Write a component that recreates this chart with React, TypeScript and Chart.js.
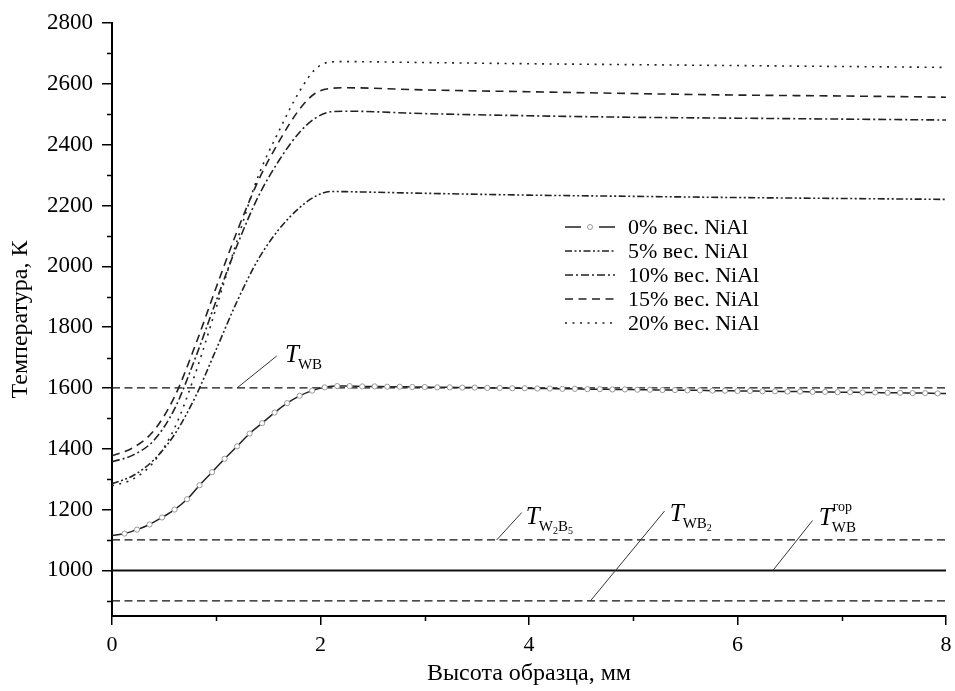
import React, { useEffect, useRef } from 'react';
import { Chart, registerables } from 'chart.js';

Chart.register(...registerables);

// ---------- axes ----------
const X_MIN = 0;
const X_MAX = 8;
const Y_MIN = 850;
const Y_MAX = 2800;
const X_TICKS = [0, 2, 4, 6, 8];
const X_MINOR = [1, 3, 5, 7];
const Y_TICKS = [1000, 1200, 1400, 1600, 1800, 2000, 2200, 2400, 2600, 2800];
const Y_MINOR = [900, 1100, 1300, 1500, 1700, 1900, 2100, 2300, 2500, 2700];

const X_TITLE = 'Высота образца, мм';
const Y_TITLE = 'Температура, К';

// ---------- series ----------
const SERIES_LABELS = ['0% вес. NiAl', '5% вес. NiAl', '10% вес. NiAl', '15% вес. NiAl', '20% вес. NiAl'];

const X0 = [0, 0.12, 0.24, 0.36, 0.48, 0.6, 0.72, 0.84, 0.96, 1.08, 1.2, 1.32, 1.44, 1.56, 1.68, 1.8, 1.92, 2.04, 2.16, 2.28,
  2.4, 2.52, 2.64, 2.76, 2.88, 3, 3.12, 3.24, 3.36, 3.48, 3.6, 3.72, 3.84, 3.96, 4.08, 4.2, 4.32, 4.44, 4.56, 4.68, 4.8, 4.92,
  5.04, 5.16, 5.28, 5.4, 5.52, 5.64, 5.76, 5.88, 6, 6.12, 6.24, 6.36, 6.48, 6.6, 6.72, 6.84, 6.96, 7.08, 7.2, 7.32, 7.44, 7.56,
  7.68, 7.8, 7.92, 8];
const Y0 = [1115, 1121, 1134, 1151, 1174, 1200, 1234, 1280, 1323, 1367, 1408, 1450, 1484, 1519, 1550, 1574, 1591, 1602, 1606, 1606,
  1605, 1605, 1604, 1604, 1603, 1603, 1602, 1602, 1601, 1601, 1600, 1600, 1599, 1599, 1598, 1598, 1597, 1597, 1596, 1596, 1595, 1595,
  1594, 1594, 1593, 1593, 1592, 1592, 1591, 1591, 1590, 1590, 1589, 1589, 1588, 1588, 1587, 1587, 1586, 1586, 1585, 1585, 1584, 1584,
  1583, 1583, 1582, 1582];

const X5 = [0, 0.2, 0.4, 0.6, 0.8, 1.0, 1.2, 1.4, 1.6, 1.8, 1.95, 2.1, 2.3, 3, 4, 5, 6, 7, 8];
const Y5 = [1285, 1311, 1363, 1447, 1571, 1727, 1885, 2021, 2121, 2193, 2230, 2246, 2245, 2240, 2234, 2230, 2226, 2223, 2220];

const X10 = [0, 0.2, 0.4, 0.6, 0.8, 1.0, 1.2, 1.4, 1.6, 1.8, 1.95, 2.1, 2.25, 3, 4, 5, 6, 7, 8];
const Y10 = [1357, 1379, 1427, 1531, 1699, 1887, 2069, 2227, 2347, 2441, 2487, 2508, 2510, 2502, 2495, 2490, 2487, 2484, 2481];

const X15 = [0, 0.2, 0.4, 0.6, 0.8, 1.0, 1.2, 1.4, 1.6, 1.8, 1.95, 2.1, 2.25, 3, 4, 5, 6, 7, 8];
const Y15 = [1377, 1403, 1459, 1571, 1741, 1931, 2115, 2279, 2409, 2517, 2569, 2585, 2587, 2580, 2574, 2568, 2563, 2560, 2556];

const X20 = [0, 0.2, 0.4, 0.6, 0.8, 1.0, 1.2, 1.4, 1.6, 1.8, 1.95, 2.1, 2.25, 3, 4, 5, 6, 7, 8];
const Y20 = [1278, 1300, 1356, 1468, 1648, 1864, 2084, 2294, 2444, 2576, 2648, 2672, 2673, 2670, 2666, 2663, 2660, 2657, 2654];

const SERIES_DASH = [[], [7, 2.5, 2, 2.5, 2, 2.5], [8, 3, 2, 3], [8, 5.5], [2, 5.5]];

// ---------- reference levels ----------
const REF_X = [0, 8];
const REF_LEVELS = [1600, 1100, 1000, 900];
const REF_DASH = [[8, 4.5], [8, 4.5], [], [8, 4.5]];
const REF_WIDTH = [1.3, 1.3, 2, 1.3];

// ---------- annotations (data units) ----------
type Ann = { sub: string; sup: string; line: number[]; at: number[] };
const ANNOTATIONS: Ann[] = [
  { sub: 'WB', sup: '', line: [1.2, 1600, 1.58, 1705], at: [1.66, 1685] },
  { sub: 'W2B5', sup: '', line: [3.69, 1100, 3.93, 1190], at: [3.97, 1154] },
  { sub: 'WB2', sup: '', line: [4.59, 900, 5.3, 1195], at: [5.35, 1161] },
  { sub: 'WB', sup: 'гор', line: [6.34, 1000, 6.72, 1164], at: [6.78, 1150] },
];

const FONT = '"Liberation Serif", "Times New Roman", serif';

const zip = (xs: number[], ys: number[]) => xs.map((x, i) => ({ x, y: ys[i] }));

const overlayPlugin = {
  id: 'overlay',
  afterDraw(chart: any) {
    const ctx: CanvasRenderingContext2D = chart.ctx;
    const xs = chart.scales.x;
    const ys = chart.scales.y;
    const area = chart.chartArea;
    ctx.save();
    // minor ticks
    ctx.strokeStyle = '#000';
    ctx.lineWidth = 1.5;
    ctx.setLineDash([]);
    ctx.beginPath();
    X_MINOR.forEach((v) => {
      const px = Math.round(xs.getPixelForValue(v)) + 0.5;
      ctx.moveTo(px, area.bottom);
      ctx.lineTo(px, area.bottom + 5);
    });
    Y_MINOR.forEach((v) => {
      const py = Math.round(ys.getPixelForValue(v)) + 0.5;
      ctx.moveTo(area.left - 5, py);
      ctx.lineTo(area.left, py);
    });
    ctx.stroke();

    // annotations
    ANNOTATIONS.forEach((a) => {
      const x1 = xs.getPixelForValue(a.line[0]);
      const y1 = ys.getPixelForValue(a.line[1]);
      const x2 = xs.getPixelForValue(a.line[2]);
      const y2 = ys.getPixelForValue(a.line[3]);
      ctx.strokeStyle = '#333';
      ctx.lineWidth = 1;
      ctx.beginPath();
      ctx.moveTo(x1, y1);
      ctx.lineTo(x2, y2);
      ctx.stroke();
      const tx = xs.getPixelForValue(a.at[0]);
      const ty = ys.getPixelForValue(a.at[1]);
      ctx.fillStyle = '#000';
      ctx.textBaseline = 'alphabetic';
      ctx.textAlign = 'left';
      ctx.font = `italic 25px ${FONT}`;
      ctx.fillText('T', tx, ty);
      let cx = tx + ctx.measureText('T').width - 1;
      const startSub = cx;
      for (const ch of a.sub) {
        const isDigit = /\d/.test(ch);
        ctx.font = isDigit ? `10px ${FONT}` : `15px ${FONT}`;
        ctx.fillText(ch, cx, ty + (isDigit ? 10 : 7));
        cx += ctx.measureText(ch).width;
      }
      if (a.sup) {
        ctx.font = `14px ${FONT}`;
        ctx.fillText(a.sup, startSub + 1, ty - 14);
      }
    });

    // legend
    const lx = area.left + 453;
    const sampleW = 50;
    const ly0 = area.top + 204;
    const rowH = 24;
    SERIES_LABELS.forEach((lab, i) => {
      const y = ly0 + i * rowH;
      ctx.strokeStyle = '#222';
      ctx.lineWidth = 1.6;
      if (i === 0) {
        ctx.setLineDash([]);
        ctx.beginPath();
        ctx.moveTo(lx, y);
        ctx.lineTo(lx + 16, y);
        ctx.moveTo(lx + 34, y);
        ctx.lineTo(lx + sampleW, y);
        ctx.stroke();
        ctx.beginPath();
        ctx.lineWidth = 1;
        ctx.strokeStyle = '#999';
        ctx.fillStyle = '#fff';
        ctx.arc(lx + 25, y, 2.5, 0, Math.PI * 2);
        ctx.fill();
        ctx.stroke();
      } else {
        ctx.setLineDash(SERIES_DASH[i]);
        ctx.beginPath();
        ctx.moveTo(lx, y);
        ctx.lineTo(lx + sampleW, y);
        ctx.stroke();
        ctx.setLineDash([]);
      }
      ctx.fillStyle = '#000';
      ctx.font = `22px ${FONT}`;
      ctx.textBaseline = 'middle';
      ctx.textAlign = 'left';
      ctx.fillText(lab, lx + 63, y + 1);
    });
    ctx.restore();
  },
};

export default function App() {
  const ref = useRef<HTMLCanvasElement | null>(null);
  useEffect(() => {
    document.body.style.margin = '0';
    const canvas = ref.current;
    if (!canvas) return;
    const refSets = REF_LEVELS.map((lvl, i) => ({
      label: 'ref' + i,
      data: REF_X.map((x) => ({ x, y: lvl })),
      borderColor: '#111',
      borderWidth: REF_WIDTH[i],
      borderDash: REF_DASH[i],
      pointRadius: 0,
      fill: false,
      order: 10,
    }));
    const curveXs = [X5, X10, X15, X20];
    const curveYs = [Y5, Y10, Y15, Y20];
    const curveSets = curveXs.map((xs, i) => ({
      label: SERIES_LABELS[i + 1],
      data: zip(xs, curveYs[i]),
      borderColor: '#222',
      borderWidth: 1.6,
      borderDash: SERIES_DASH[i + 1],
      pointRadius: 0,
      cubicInterpolationMode: 'monotone' as const,
      fill: false,
      order: 5,
    }));
    const zeroSet = {
      label: SERIES_LABELS[0],
      data: zip(X0, Y0),
      borderColor: '#222',
      borderWidth: 1.5,
      cubicInterpolationMode: 'monotone' as const,
      pointRadius: (c: any) => (c.dataIndex === 0 || c.dataIndex === X0.length - 1 ? 0 : 2.6),
      pointBackgroundColor: '#fff',
      pointBorderColor: '#999',
      pointBorderWidth: 1,
      fill: false,
      order: 1,
    };
    const tickFont = { family: FONT, size: 22 };
    const yTickFont = { family: FONT, size: 23 };
    const titleFont = { family: FONT, size: 24 };
    const chart = new Chart(canvas, {
      type: 'line',
      data: { datasets: [...refSets, ...curveSets, zeroSet] as any },
      options: {
        animation: false,
        responsive: false,
        devicePixelRatio: 1,
        layout: { padding: { left: 0, right: 9, top: 23, bottom: 0 } },
        plugins: { legend: { display: false }, tooltip: { enabled: false } },
        scales: {
          x: {
            type: 'linear',
            min: X_MIN,
            max: X_MAX,
            afterBuildTicks: (s: any) => {
              s.ticks = X_TICKS.map((v) => ({ value: v }));
            },
            afterFit: (s: any) => {
              s.height = 75;
              s.paddingLeft = 0;
              s.paddingRight = 0;
            },
            grid: { drawOnChartArea: false, drawTicks: true, tickLength: 9, color: '#000', lineWidth: 1.5 },
            border: { display: true, color: '#000', width: 2 },
            ticks: { color: '#000', font: tickFont, padding: 7, maxRotation: 0, autoSkip: false, callback: (v: any) => String(v) },
            title: { display: true, text: X_TITLE, color: '#000', font: titleFont, padding: { top: 0, bottom: 3 } },
          },
          y: {
            type: 'linear',
            min: Y_MIN,
            max: Y_MAX,
            afterBuildTicks: (s: any) => {
              s.ticks = Y_TICKS.map((v) => ({ value: v }));
            },
            afterFit: (s: any) => {
              s.width = 112;
              s.paddingTop = 0;
              s.paddingBottom = 0;
            },
            grid: { drawOnChartArea: false, drawTicks: true, tickLength: 10, color: '#000', lineWidth: 1.5 },
            border: { display: true, color: '#000', width: 2 },
            ticks: { color: '#000', font: yTickFont, padding: 9, autoSkip: false, callback: (v: any) => String(v) },
            title: { display: true, text: Y_TITLE, color: '#000', font: titleFont, padding: { top: 6, bottom: 0 } },
          },
        },
      },
      plugins: [overlayPlugin],
    });
    return () => chart.destroy();
  }, []);
  return (
    <div style={{ width: 955, height: 691 }}>
      <canvas ref={ref} width={955} height={691} style={{ display: 'block' }} />
    </div>
  );
}
